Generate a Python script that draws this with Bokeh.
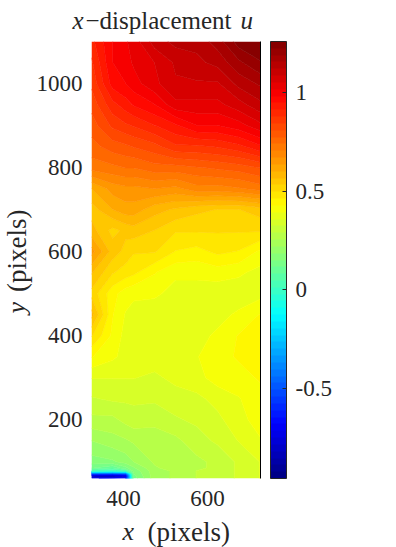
import numpy as np
from bokeh.embed import file_html
from bokeh.layouts import column, row
from bokeh.resources import INLINE
from bokeh.models import ColorBar, FixedTicker, Label, LinearAxis, LinearColorMapper, Range1d
from bokeh.plotting import figure

x_grid = [324, 374, 405, 424, 474, 524, 574, 624, 674, 726]
y_top_down = [1100, 1050, 1000, 950, 900, 850, 800, 750, 700, 650, 600, 550, 500, 450, 400,
              350, 300, 250, 200, 150, 100, 85, 78, 72, 66, 60]
u_rows = [
    [.90, .98, 1.01, 1.03, 1.10, 1.13, 1.13, 1.17, 1.24, 1.25],
    [.87, .98, 1.00, 1.02, 1.05, 1.09, 1.11, 1.13, 1.18, 1.22],
    [.85, .96, .98, 1.00, 1.04, 1.08, 1.08, 1.08, 1.13, 1.16],
    [.82, .90, .93, .95, .98, 1.04, 1.04, 1.04, 1.07, 1.11],
    [.79, .85, .87, .88, .91, .94, .98, .98, 1.00, 1.04],
    [.76, .79, .80, .81, .83, .87, .87, .88, .90, .94],
    [.72, .73, .74, .74, .76, .76, .77, .78, .79, .81],
    [.60, .65, .66, .66, .67, .66, .69, .69, .70, .72],
    [.55, .60, .62, .62, .58, .56, .54, .53, .53, .55],
    [.58, .52, .54, .55, .53, .50, .50, .50, .50, .50],
    [.65, .55, .52, .50, .50, .46, .45, .47, .46, .42],
    [.57, .50, .48, .47, .43, .40, .40, .41, .40, .38],
    [.52, .44, .41, .40, .40, .38, .38, .37, .37, .38],
    [.58, .43, .39, .38, .37, .37, .38, .38, .40, .43],
    [.50, .42, .38, .37, .36, .37, .38, .40, .43, .43],
    [.43, .40, .38, .38, .38, .38, .39, .42, .43, .43],
    [.36, .36, .36, .36, .35, .37, .38, .41, .42, .43],
    [.32, .33, .33, .33, .33, .34, .35, .37, .39, .42],
    [.28, .28, .30, .31, .30, .32, .33, .35, .38, .41],
    [.22, .24, .25, .26, .27, .28, .31, .33, .36, .39],
    [.17, .18, .20, .22, .26, .27, .28, .30, .33, .36],
    [.12, .08, .14, .18, .25, .27, .28, .30, .33, .36],
    [.02, .00, .04, .16, .24, .26, .29, .30, .33, .36],
    [-.50, -.52, -.48, .15, .24, .26, .29, .30, .33, .36],
    [-.85, -.86, -.80, .14, .24, .26, .29, .30, .33, .36],
    [-.72, -.70, -.68, .13, .24, .26, .29, .30, .33, .36],
]
colorbar_ticks = [-0.5, 0, 0.5, 1]
colorbar_labels = {-0.5: "-0.5", 0: "0", 0.5: "0.5", 1: "1"}
u_low, u_high = -0.955, 1.257
x_ticks = [400, 600]
y_ticks = [200, 400, 600, 800, 1000]


def jet(n):
    out = []
    for i in range(n):
        t = (i + 0.5) / n
        c = [min(4 * t - 1.5, -4 * t + 4.5), min(4 * t - 0.5, -4 * t + 3.5), min(4 * t + 0.5, -4 * t + 2.5)]
        c = [int(round(255 * max(0, min(1, v)))) for v in c]
        out.append("#%02x%02x%02x" % tuple(c))
    return out


palette = jet(64)
levels = np.linspace(u_low, u_high, 65)
FONT = "Liberation Serif"
INK = "#262626"

p = figure(frame_width=169, frame_height=437, x_range=Range1d(324, 726), y_range=Range1d(60, 1100),
           output_backend="svg", toolbar_location=None, min_border_left=40, min_border_top=0,
           min_border_bottom=20, min_border_right=4)
p.grid.visible = False
p.outline_line_color = None
p.background_fill_color = "white"
for ax, t in ((p.xaxis, x_ticks), (p.yaxis, y_ticks)):
    ax.ticker = FixedTicker(ticks=t)
    ax.axis_line_color = None
    ax.major_tick_line_color = None
    ax.major_tick_out = 0
    ax.major_tick_in = 0
    ax.minor_tick_line_color = None
    ax.major_label_text_font = FONT
    ax.major_label_text_font_size = "23px"
    ax.major_label_text_color = INK
p.xaxis.major_label_standoff = 12
p.yaxis.major_label_standoff = 9

z = np.array(u_rows[::-1])
p.contour(x_grid, y_top_down[::-1], z, levels, fill_color=palette, line_color=palette + [palette[-1]], line_width=0.8)
edge = LinearAxis(ticker=FixedTicker(ticks=[]), axis_line_color="black", major_tick_line_color=None,
                  minor_tick_line_color=None, major_label_text_font_size="0px")
p.add_layout(edge, "right")

mapper = LinearColorMapper(palette=palette, low=u_low, high=u_high)
cb = ColorBar(color_mapper=mapper, ticker=FixedTicker(ticks=colorbar_ticks), width=16, padding=0,
              location=(10, 0), major_label_overrides=colorbar_labels,
              bar_line_color=INK, major_tick_line_color=INK, major_tick_in=4, major_tick_out=0,
              minor_tick_line_color=None, major_label_text_font=FONT, major_label_text_font_size="23px",
              major_label_text_color=INK, label_standoff=9, border_line_color=None)
p.add_layout(cb, "right")


def text_strip(width, height, parts):
    f = figure(width=width, height=height, x_range=Range1d(0, width), y_range=Range1d(0, height),
               x_axis_type=None, y_axis_type=None, output_backend="svg", toolbar_location=None,
               min_border=0, outline_line_color=None)
    f.grid.visible = False
    for text, x, y, size, style, angle in parts:
        f.add_layout(Label(x=x, y=y, text=text, text_font=FONT, text_font_size=size, text_color=INK,
                           text_font_style=style, angle=angle, text_baseline="alphabetic"))
    return f


title_strip = text_strip(396, 41, [("x", 72, 21, "25px", "italic", 0.0), ("−displacement", 85, 21, "25px", "normal", 0.0),
                                   ("u", 240, 21, "25px", "italic", 0.0)])
ylabel_strip = text_strip(33, 437, [("y", 16, 145, "26px", "italic", np.pi / 2), ("(pixels)", 16, 168, "27px", "normal", np.pi / 2)])
xlabel_strip = text_strip(396, 39, [("x", 122, 16, "26px", "italic", 0.0), ("(pixels)", 147, 16, "27px", "normal", 0.0)])

page = column(title_strip, row(ylabel_strip, p, spacing=0), xlabel_strip, spacing=0)
open("out.html", "w").write(file_html(page, INLINE))
